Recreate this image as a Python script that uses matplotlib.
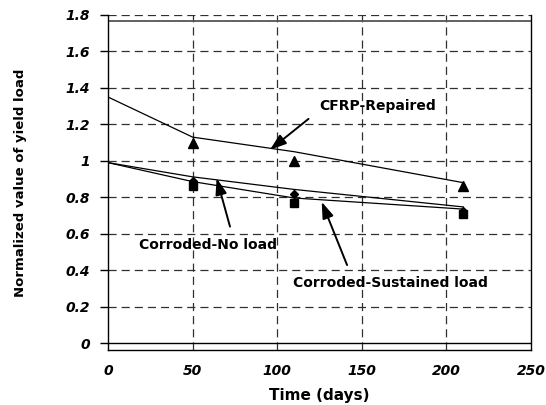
import matplotlib
matplotlib.use("Agg")
import matplotlib.pyplot as plt

# Data
marker_days = [50, 110, 210]
line_days = [0, 50, 110, 210]

cfrp_points = [1.10, 1.00, 0.86]
cfrp_fit = [1.35, 1.13, 1.05, 0.88]

noload_points = [0.89, 0.82, 0.725]
noload_fit = [0.99, 0.912, 0.843, 0.747]

sustained_points = [0.86, 0.77, 0.71]
sustained_fit = [0.99, 0.886, 0.796, 0.735]

x_ticks = [0, 50, 100, 150, 200, 250]
y_ticks = [0, 0.2, 0.4, 0.6, 0.8, 1, 1.2, 1.4, 1.6, 1.8]
y_tick_labels = ["0", "0.2", "0.4", "0.6", "0.8", "1", "1.2", "1.4", "1.6", "1.8"]

plt.rcParams['font.family'] = ['DejaVu Sans']

fig = plt.figure(figsize=(5.46, 4.05), dpi=100)
ax = fig.add_axes([108/546, 1-350/405, (531-108)/546, (350-15)/405])
ax.set_xlim(0, 250)
ax.set_ylim(-0.038, 1.8)

grid_kw = dict(color='#303030', lw=0.9, linestyle=(0, (6.5, 4)), zorder=1)
for yv in y_ticks[1:]:
    ax.axhline(yv, **grid_kw)
for xv in x_ticks[1:-1]:
    ax.axvline(xv, ymax=1.0, **grid_kw)

# solid lines: zero line and inner top border
ax.axhline(0, color='black', lw=1.0, zorder=2)
ax.axhline(1.765, color='#555555', lw=1.3, zorder=2)

# fitted lines
ax.plot(line_days, cfrp_fit, color='black', lw=0.9, zorder=3)
ax.plot(line_days, noload_fit, color='black', lw=0.9, zorder=3)
ax.plot(line_days, sustained_fit, color='black', lw=0.9, zorder=3)

# markers
ax.plot(marker_days, cfrp_points, linestyle='none', marker='^', color='black', ms=6.5, zorder=4)
ax.plot(marker_days, sustained_points, linestyle='none', marker='s', color='black', ms=5.5, zorder=4)
ax.plot(marker_days, noload_points, linestyle='none', marker='D', color='black', ms=4.5, zorder=5)

arrow_kw = dict(arrowstyle='-|>,head_length=0.55,head_width=0.19', color='black', lw=1.4,
                mutation_scale=18, shrinkA=0, shrinkB=0)
txt_kw = dict(fontsize=10, fontweight='bold', ha='center', va='center')

ax.annotate('', xy=(95.7, 1.06), xytext=(118.5, 1.23), arrowprops=arrow_kw, zorder=6)
ax.text(159.6, 1.30, 'CFRP-Repaired', **txt_kw)

ax.annotate('', xy=(64.2, 0.905), xytext=(72.1, 0.639), arrowprops=arrow_kw, zorder=6)
ax.text(59.1, 0.538, 'Corroded-No load', **txt_kw)

ax.annotate('', xy=(126.3, 0.775), xytext=(141.3, 0.428), arrowprops=arrow_kw, zorder=6)
ax.text(167, 0.331, 'Corroded-Sustained load', **txt_kw)

# spines
ax.spines['top'].set_visible(False)
for s in ['left', 'right', 'bottom']:
    ax.spines[s].set_color('black')
    ax.spines[s].set_linewidth(1.0)

ax.set_xticks(x_ticks)
ax.set_xticklabels([str(v) for v in x_ticks])
ax.set_yticks(y_ticks)
ax.set_yticklabels(y_tick_labels)
ax.tick_params(axis='x', length=0, pad=10, labelsize=10)
ax.tick_params(axis='y', length=6, width=1.0, direction='out', pad=7, labelsize=10)
for lab in ax.get_xticklabels() + ax.get_yticklabels():
    lab.set_fontweight('bold')
    lab.set_fontstyle('italic')

ax.set_xlabel('Time (days)', fontsize=11, fontweight='bold', labelpad=7)
ax.set_ylabel('Normalized value of yield load', fontsize=9.5, fontweight='bold', labelpad=28)

fig.savefig('out.png', dpi=100)
